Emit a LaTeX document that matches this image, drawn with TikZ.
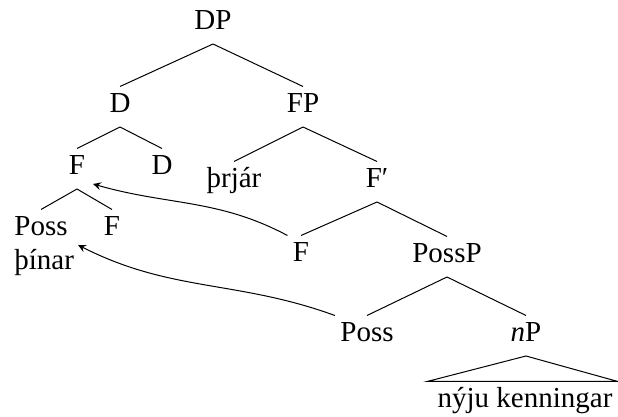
\documentclass[tikz,border=0pt]{standalone}
\usepackage{fontspec}
\setmainfont{Liberation Serif}
\usetikzlibrary{positioning,arrows}

\begin{document}
\begin{tikzpicture}[x=0.4pt, y=0.4pt, >=stealth]
				\tikzstyle{lbl}=[anchor=base, inner xsep=2pt, inner ysep=2.4pt, text height=8pt, text depth=3pt, font=\rmfamily\fontsize{11.6}{13.9}\selectfont]
				\tikzstyle{branch}=[thin]
				\useasboundingbox (0,0) rectangle (618,-417);
				%Root
				\node[lbl](dp) at (213,-30){DP};
				%Second Row
				\node[lbl](d) at (120,-113){D};
				\node[lbl](fp) at (303,-113){FP};
				%Third Row
				\node[lbl](fa) at (77,-175){F};
				\node[lbl](db) at (162,-175){D};
				\node[lbl](thrjar) at (234,-188){þrjár};
				\node[lbl](fbar) at (377,-188){F′};
				%Fourth Row
				\node[lbl](possa) at (41,-236){Poss};
				\node[lbl, anchor=base west](pinar) at ([yshift=-13.6pt]possa.base west){þínar};
				\node[lbl](fb) at (112,-236){F};
				\node[lbl](fc) at (301,-262){F};
				\node[lbl](possp) at (447,-263){PossP};
				%Fifth Row
				\node[lbl](possb) at (367,-342){Poss};
				\node[lbl](np) at (526,-342){\textit{n}P};
				\node[lbl](kenn) at (525,-408){nýju kenningar};
				%Branches
				\draw[branch] (dp.south) -- (d.north);
				\draw[branch] (dp.south) -- (fp.north);
				\draw[branch] (d.south) -- (fa.north);
				\draw[branch] (d.south) -- (db.north);
				\draw[branch] (fp.south) -- (thrjar.north);
				\draw[branch] (fp.south) -- (fbar.north);
				\draw[branch] (fa.south) -- (possa.north);
				\draw[branch] (fa.south) -- (fb.north);
				\draw[branch] (fbar.south) -- (fc.north);
				\draw[branch] (fbar.south) -- (possp.north);
				\draw[branch] (possp.south) -- (possb.north);
				\draw[branch] (possp.south) -- (np.north);
				\draw[branch] (np.south) -- ([xshift=-2pt]kenn.north west) -- (kenn.north east) -- cycle;
				%Movement
				\draw[branch, ->] (fc.north west) to[out=152, in=-16] ([shift={(1pt,2pt)}]fa.south east);
				\draw[branch, ->] (possb.north west) to[out=160, in=-27] ([shift={(2pt,2pt)}]possa.south east);
\end{tikzpicture}
\end{document}
